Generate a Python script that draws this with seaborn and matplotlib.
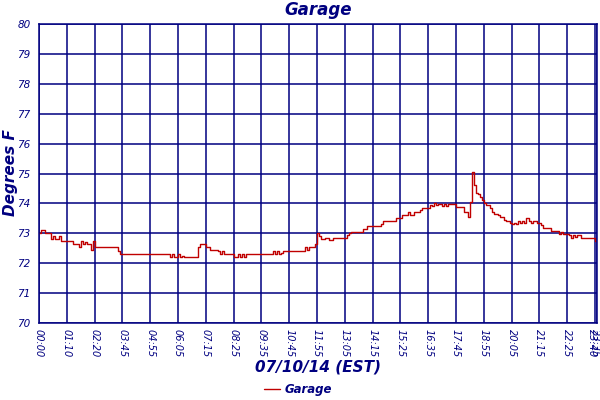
import numpy as np
import pandas as pd
import seaborn as sns
import matplotlib.pyplot as plt

# ---- data (one reading every 5 minutes) ----
temps = [
    73.0, 73.1, 73.1, 73.0, 73.0, 73.0, 72.8, 72.9, 72.8, 72.8, 72.9, 72.75, 72.75, 72.75,
    72.75, 72.75, 72.75, 72.65, 72.65, 72.65, 72.55, 72.75, 72.65, 72.7, 72.65, 72.65, 72.45, 72.75,
    72.55, 72.55, 72.55, 72.55, 72.55, 72.55, 72.55, 72.55, 72.55, 72.55, 72.55, 72.55, 72.4, 72.3,
    72.3, 72.3, 72.3, 72.3, 72.3, 72.3, 72.3, 72.3, 72.3, 72.3, 72.3, 72.3, 72.3, 72.3,
    72.3, 72.3, 72.3, 72.3, 72.3, 72.3, 72.3, 72.3, 72.3, 72.3, 72.2, 72.3, 72.2, 72.2,
    72.3, 72.2, 72.25, 72.2, 72.2, 72.2, 72.2, 72.2, 72.2, 72.2, 72.55, 72.65, 72.65, 72.65,
    72.55, 72.55, 72.45, 72.45, 72.45, 72.45, 72.4, 72.3, 72.4, 72.3, 72.3, 72.3, 72.3, 72.3,
    72.2, 72.2, 72.3, 72.2, 72.3, 72.2, 72.3, 72.3, 72.3, 72.3, 72.3, 72.3, 72.3, 72.3,
    72.3, 72.3, 72.3, 72.3, 72.3, 72.3, 72.4, 72.3, 72.4, 72.3, 72.35, 72.4, 72.4, 72.4,
    72.4, 72.4, 72.4, 72.4, 72.4, 72.4, 72.4, 72.4, 72.55, 72.45, 72.55, 72.55, 72.55, 72.65,
    73.0, 72.9, 72.8, 72.8, 72.85, 72.85, 72.78, 72.78, 72.85, 72.85, 72.85, 72.85, 72.85, 72.85,
    72.85, 72.95, 73.0, 73.05, 73.05, 73.05, 73.05, 73.05, 73.05, 73.15, 73.15, 73.25, 73.25, 73.25,
    73.25, 73.25, 73.25, 73.25, 73.3, 73.4, 73.42, 73.42, 73.42, 73.42, 73.42, 73.42, 73.5, 73.5,
    73.5, 73.6, 73.6, 73.6, 73.7, 73.6, 73.6, 73.72, 73.72, 73.72, 73.78, 73.83, 73.83, 73.83,
    73.83, 73.95, 73.9, 74.0, 73.95, 73.98, 73.98, 73.9, 73.98, 73.9, 73.98, 73.98, 73.98, 73.98,
    73.87, 73.87, 73.87, 73.87, 73.72, 73.72, 73.55, 74.05, 75.06, 74.6, 74.35, 74.3, 74.2, 74.1,
    74.0, 73.95, 73.95, 73.83, 73.72, 73.65, 73.65, 73.6, 73.54, 73.54, 73.46, 73.41, 73.41, 73.35,
    73.3, 73.35, 73.3, 73.41, 73.35, 73.41, 73.35, 73.5, 73.5, 73.4, 73.35, 73.4, 73.4, 73.33,
    73.33, 73.28, 73.17, 73.17, 73.17, 73.17, 73.09, 73.09, 73.09, 73.09, 72.98, 73.05, 72.98, 72.98,
    72.98, 72.94, 72.83, 72.94, 72.88, 72.94, 72.94, 72.83, 72.83, 72.83, 72.83, 72.83, 72.83, 72.83,
    72.75, 72.83,
]
tick_labels = ["00:00", "01:10", "02:20", "03:45", "04:55", "06:05", "07:15", "08:25",
               "09:35", "10:45", "11:55", "13:05", "14:15", "15:25", "16:35", "17:45",
               "18:55", "20:05", "21:15", "22:25", "23:35", "23:40"]
y_ticks = [70, 71, 72, 73, 74, 75, 76, 77, 78, 79, 80]
series_name = "Garage"
title = "Garage"
x_title = "07/10/14 (EST)"
y_title = "Degrees F"

NAVY = "#000080"
RED = "#C00000"

sns.set_theme(style="white")
plt.rcParams["font.family"] = ["DejaVu Sans"]

df = pd.DataFrame({"idx": np.arange(len(temps)), "temp": temps})

fig = plt.figure(figsize=(6, 4), dpi=100)
ax = fig.add_axes([0.065, 0.1925, 0.93, 0.7475])

sns.lineplot(data=df, x="idx", y="temp", ax=ax, color=RED, lw=1.0,
             drawstyle="steps-post", legend=False)

n = len(temps)
tick_pos = [i * 14 for i in range(len(tick_labels) - 1)] + [n - 1]
ax.set_xlim(0, n - 1)
ax.set_ylim(70, 80)
ax.set_yticks(y_ticks)
ax.set_yticklabels([str(v) for v in y_ticks], fontstyle="italic", fontsize=7.5, color=NAVY)
ax.set_xticks(tick_pos)
ax.set_xticklabels(tick_labels, rotation=-90, fontstyle="italic", fontsize=7,
                   color=NAVY, va="top", ha="center")
# keep the final label (it overlaps its neighbour, as in the reference) inside the canvas
ax.get_xticklabels()[-1].set_horizontalalignment("right")
ax.tick_params(length=0, pad=4)
ax.tick_params(axis="y", pad=6)
ax.grid(True, color=NAVY, lw=1.1)
ax.set_axisbelow(True)
for s in ax.spines.values():
    s.set_color(NAVY)
    s.set_linewidth(1.1)

ax.set_xlabel("")
ax.set_ylabel("")
fig.text(0.53, 0.975, title, ha="center", va="center", fontsize=12,
         fontweight="bold", fontstyle="italic", color=NAVY)
fig.text(0.53, 0.082, x_title, ha="center", va="center", fontsize=11,
         fontweight="bold", fontstyle="italic", color=NAVY)
fig.text(0.017, 0.5675, y_title, ha="center", va="center", rotation=90, fontsize=11,
         fontweight="bold", fontstyle="italic", color=NAVY)

line = ax.get_lines()[0]
leg = fig.legend([line], [series_name], loc="center", bbox_to_anchor=(0.497, 0.027),
                 frameon=False, handlelength=1.3, handletextpad=0.4,
                 prop={"size": 8.5, "weight": "bold", "style": "italic"})
for t in leg.get_texts():
    t.set_color(NAVY)

fig.savefig("out.png", dpi=100, facecolor="white")
